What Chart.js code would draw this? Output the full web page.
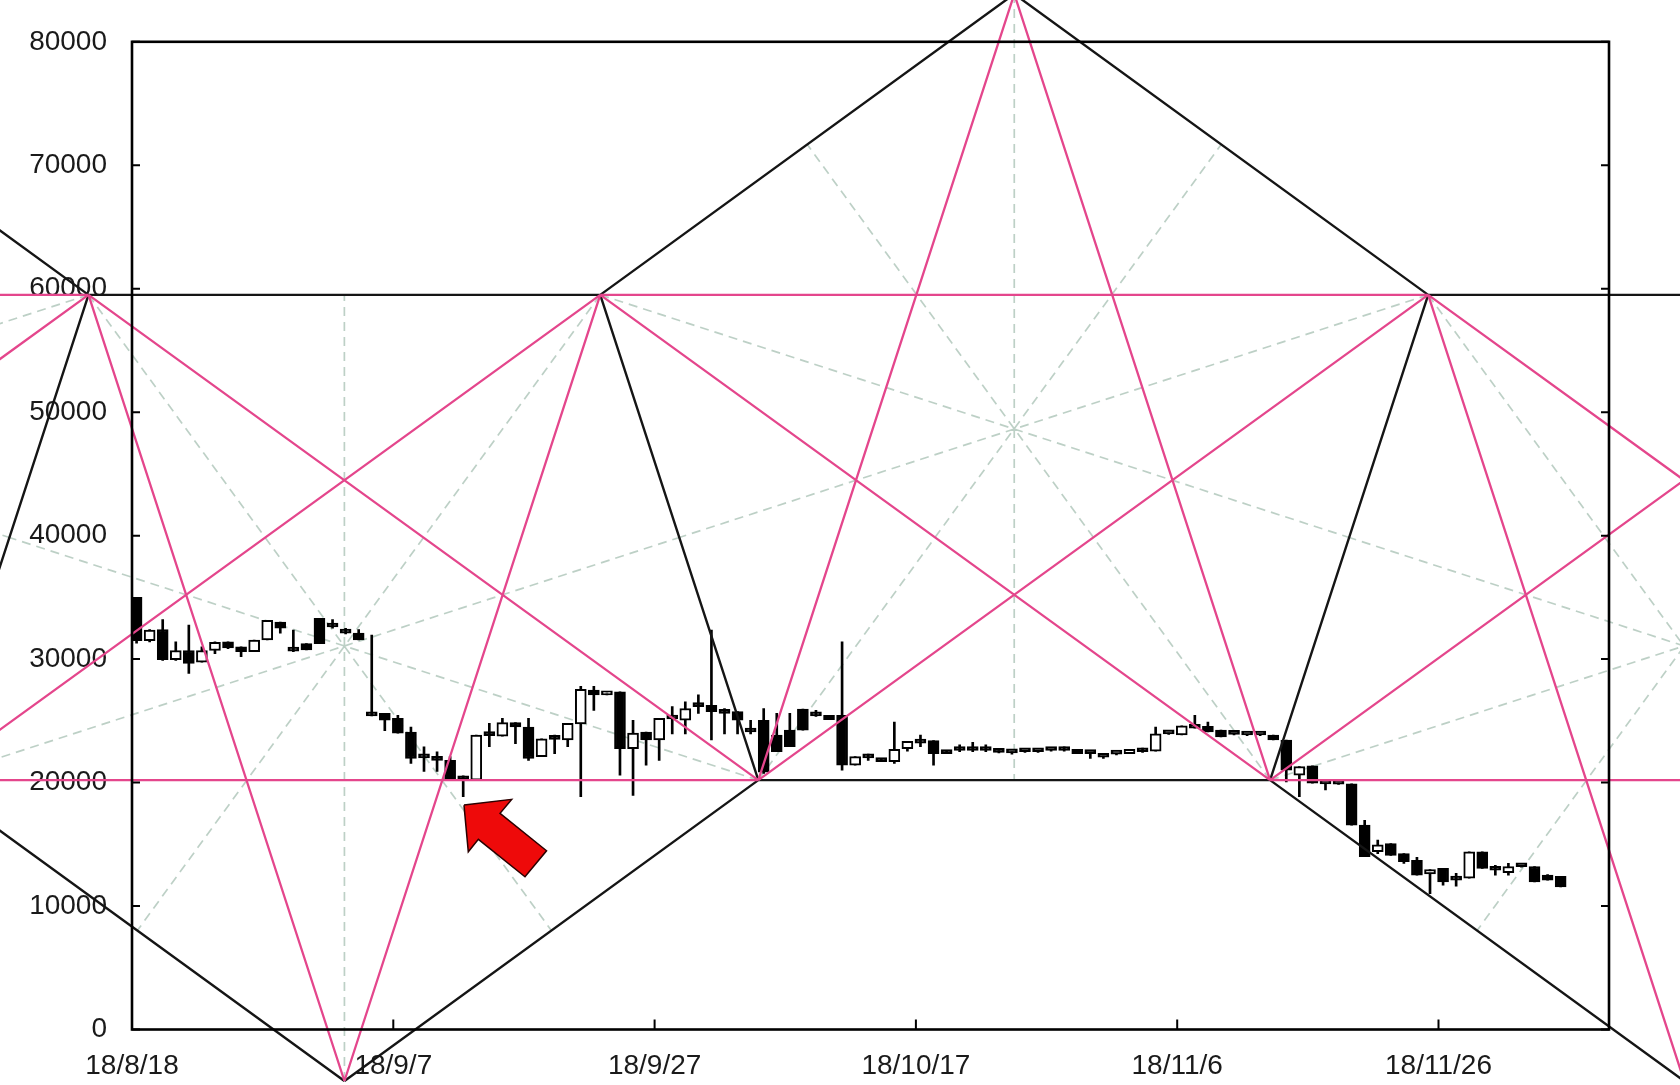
<!DOCTYPE html>
<html>
<head>
<meta charset="utf-8">
<script src="https://cdn.jsdelivr.net/npm/chart.js@4.4.1/dist/chart.umd.min.js"></script>
<style>
  html, body { margin: 0; padding: 0; background: #fff; }
  canvas { display: block; }
</style>
</head>
<body>
<canvas id="chart" width="1680" height="1085"></canvas>
<script>
// daily candles, one per calendar day starting 18/8/18
const candleOpen = [
  35000, 31500, 32400, 29950, 30700, 29750, 30700, 31400, 31000, 30600,
  31550, 33000, 30700, 31250, 33300, 32900, 32200, 32100, 25700, 25600,
  25200, 24100, 22100, 21850, 21800, 20550, 20200, 23850, 23750, 24850,
  24500, 22100, 23550, 23450, 24750, 27500, 27100, 27350, 22750, 24100,
  23450, 25200, 25050, 26200, 26250, 25700, 25750, 24150, 25050, 23850,
  24250, 25950, 25600, 25450, 25450, 21400, 22050, 21950, 21700, 22750,
  23250, 23400, 22550, 22650, 22650, 22650, 22550, 22450, 22550, 22550,
  22650, 22650, 22700, 22400, 22100, 22300, 22350, 22550, 22550, 23950,
  23850, 24600, 24550, 24250, 23950, 23900, 23900, 23850, 23450, 20600,
  21350, 19950, 19900, 19900, 16550, 14400, 15050, 14250, 13700, 12600,
  13050, 12400, 12250, 14400, 12950, 12700, 13200, 13200, 12500, 12400
];
const candleHigh = [
  35000, 32400, 33200, 31400, 32750, 31000, 31400, 31400, 31000, 31550,
  33150, 33000, 32350, 31250, 33300, 33200, 32500, 32400, 31950, 25600,
  25450, 24500, 22900, 22500, 22100, 20550, 23850, 24800, 25200, 24850,
  25200, 23550, 23850, 24800, 27800, 27800, 27350, 27350, 25050, 24100,
  25200, 26150, 26550, 27100, 32350, 26000, 25750, 25050, 26000, 25600,
  25600, 25950, 25850, 25450, 31400, 22100, 22300, 21950, 24900, 23350,
  23850, 23400, 22550, 23050, 23250, 23050, 22600, 22500, 22600, 22600,
  22700, 22900, 22700, 22400, 22150, 22350, 22700, 22800, 24500, 24000,
  24600, 25450, 24900, 24250, 23950, 23900, 23900, 23850, 23450, 21300,
  21350, 19950, 19950, 19900, 16950, 15350, 15050, 14250, 13950, 12950,
  13050, 12650, 14400, 14400, 13300, 13450, 13250, 13200, 12550, 12400
];
const candleLow = [
  31300, 31400, 29900, 29900, 28850, 29750, 30450, 30850, 30200, 30600,
  31550, 32100, 30600, 30750, 31250, 32500, 32050, 31550, 25400, 24200,
  24000, 21550, 20900, 20900, 20200, 18850, 20200, 22900, 23750, 23150,
  21800, 22100, 22350, 22900, 18850, 25850, 27100, 20600, 18950, 21400,
  21800, 23950, 23950, 25600, 23450, 23950, 23950, 23950, 20750, 22500,
  22900, 24250, 25350, 25100, 21000, 21400, 21800, 21700, 21550, 22550,
  22900, 21400, 22350, 22500, 22500, 22500, 22400, 22300, 22450, 22450,
  22550, 22550, 22350, 21950, 21950, 22250, 22350, 22450, 22550, 23900,
  23850, 24400, 24100, 23700, 23850, 23800, 23800, 23450, 20050, 18850,
  19950, 19400, 19850, 16550, 14000, 14250, 14100, 13450, 12500, 11000,
  11700, 11600, 12250, 13050, 12500, 12500, 13150, 11950, 12100, 11550
];
const candleClose = [
  31500, 32350, 29950, 30700, 29650, 30700, 31350, 30900, 30600, 31550,
  33150, 32500, 30650, 30750, 31250, 32600, 32100, 31550, 25400, 25050,
  24000, 21950, 22000, 21800, 20200, 20200, 23850, 23800, 24850, 24500,
  21950, 23550, 23500, 24800, 27550, 27100, 27350, 22750, 24000, 23450,
  25200, 25150, 26000, 26150, 25750, 25600, 25050, 24100, 20850, 22500,
  22900, 24250, 25400, 25100, 21400, 22100, 22000, 21700, 22700, 23350,
  23200, 22350, 22350, 22600, 22600, 22600, 22450, 22400, 22500, 22500,
  22600, 22600, 22350, 22350, 22050, 22300, 22700, 22500, 23950, 23950,
  24600, 24400, 24100, 23700, 23900, 23850, 23850, 23450, 21000, 21300,
  19950, 19900, 19880, 16550, 14000, 14950, 14100, 13600, 12500, 12950,
  11950, 12100, 14400, 13050, 12900, 13200, 13180, 11950, 12100, 11550
];
const candleTime = 0.35; // fraction of the day where each candle sits

// pentagon / pentagram pivots: days from 18/8/18 and price levels
const highLevel = 59500;
const lowLevel = 20200;
const topLevel = 83870;
const bottomLevel = -4170;
const highDays = [-66.71, -3.33, 35.84, 99.21, 138.38];
const lowDays = [-54.61, -15.44, 47.94, 87.11, 150.49];
const topDays = [-35.02, 67.53];
const bottomDays = [16.26, 118.80];

// red arrow outline
const arrowDays = [25.41, 25.74, 26.51, 30.08, 31.73, 28.17, 29.06, 25.41];
const arrowValues = [18178, 14397, 15401, 12372, 14478, 17506, 18640, 18178];

const dateTickDays = [0, 20, 40, 60, 80, 100];
const dateTickLabels = ['18/8/18', '18/9/7', '18/9/27', '18/10/17', '18/11/6', '18/11/26'];
const priceTicks = [0, 10000, 20000, 30000, 40000, 50000, 60000, 70000, 80000];

// build the pentagons from the pivots
const H = highDays.map(d => ({x: d, y: highLevel}));
const L = lowDays.map(d => ({x: d, y: lowLevel}));
const T = topDays.map(d => ({x: d, y: topLevel}));
const B = bottomDays.map(d => ({x: d, y: bottomLevel}));
const pentagons = [
  [T[0], H[1], L[1], L[0], H[0]],
  [H[1], H[2], L[2], B[0], L[1]],
  [T[1], H[3], L[3], L[2], H[2]],
  [H[3], H[4], L[4], B[1], L[3]]
];
const mid = (a, b) => ({x: (a.x + b.x) / 2, y: (a.y + b.y) / 2});
const edges = [], diagonals = [], spokes = [];
pentagons.forEach(v => {
  for (let i = 0; i < 5; i++) {
    edges.push([v[i], v[(i + 1) % 5]]);
    diagonals.push([v[i], v[(i + 2) % 5]]);
    spokes.push([v[i], mid(v[(i + 2) % 5], v[(i + 3) % 5])]);
  }
});
const toSegments = pairs => pairs.flatMap(([a, b]) => [a, b, {x: null, y: null}]);

const days = candleOpen.map((_, i) => i + candleTime);
const bodies = days.map((d, i) => ({x: d, y: [candleOpen[i], candleClose[i]]}));
const wicks = days.map((d, i) => ({x: d, y: [candleLow[i], candleHigh[i]]}));
const arrow = arrowDays.map((d, i) => ({x: d, y: arrowValues[i]}));

const framePlugin = {
  id: 'frame',
  afterDatasetsDraw(chart) {
    const {ctx, chartArea: a, scales: {x, y}} = chart;
    ctx.save();
    ctx.strokeStyle = '#000';
    ctx.lineWidth = 2.6;
    ctx.strokeRect(a.left, a.top, a.right - a.left, a.bottom - a.top);
    ctx.lineWidth = 2;
    ctx.beginPath();
    y.ticks.forEach(t => {
      const py = y.getPixelForValue(t.value);
      ctx.moveTo(a.left, py); ctx.lineTo(a.left + 8, py);
      ctx.moveTo(a.right, py); ctx.lineTo(a.right - 8, py);
    });
    x.ticks.forEach(t => {
      const px = x.getPixelForValue(t.value);
      ctx.moveTo(px, a.bottom); ctx.lineTo(px, a.bottom - 10);
    });
    ctx.stroke();
    ctx.restore();
  }
};

Chart.defaults.font.family = "'Liberation Sans', Arial, sans-serif";
Chart.defaults.font.size = 28;
Chart.defaults.color = '#1a1a1a';

new Chart(document.getElementById('chart'), {
  type: 'line',
  data: {
    datasets: [
      {
        type: 'line', data: arrow, order: 0, fill: 'shape',
        backgroundColor: '#ee0a0a', borderColor: '#2a0000', borderWidth: 1.5,
        pointRadius: 0, clip: false
      },
      {
        type: 'line', data: toSegments(diagonals), order: 1,
        borderColor: '#e4468c', borderWidth: 2.3, pointRadius: 0, clip: false, spanGaps: false
      },
      {
        type: 'line', data: toSegments(edges), order: 2,
        borderColor: '#151515', borderWidth: 2.4, pointRadius: 0, clip: false, spanGaps: false
      },
      {
        type: 'bar', data: bodies, order: 3, grouped: false, barThickness: 11,
        minBarLength: 4, borderSkipped: false, borderWidth: 2, borderColor: '#000',
        backgroundColor: c => {
          const i = c.dataIndex;
          return candleClose[i] > candleOpen[i] ? '#ffffff' : '#000000';
        }
      },
      {
        type: 'bar', data: wicks, order: 4, grouped: false, barThickness: 2,
        borderWidth: 0, backgroundColor: '#000'
      },
      {
        type: 'line', data: toSegments(spokes), order: 5,
        borderColor: 'rgba(185, 205, 195, 0.95)', borderWidth: 1.7, borderDash: [9, 6],
        pointRadius: 0, clip: false, spanGaps: false
      }
    ]
  },
  options: {
    responsive: false,
    animation: false,
    events: [],
    devicePixelRatio: 1,
    layout: { padding: { top: 41.5, right: 71, left: 0, bottom: 0 } },
    plugins: { legend: { display: false }, tooltip: { enabled: false } },
    scales: {
      x: {
        type: 'linear', min: 0, max: 113.05, offset: false,
        grid: { display: false, drawTicks: false },
        border: { display: false },
        afterBuildTicks: s => { s.ticks = dateTickDays.map(v => ({value: v})); },
        afterFit: s => { s.height = 55.5; },
        ticks: {
          padding: 20, maxRotation: 0, autoSkip: false,
          callback: v => dateTickLabels[dateTickDays.indexOf(v)]
        }
      },
      y: {
        type: 'linear', min: 0, max: 80000,
        grid: { display: false, drawTicks: false },
        border: { display: false },
        afterBuildTicks: s => { s.ticks = priceTicks.map(v => ({value: v})); },
        afterFit: s => { s.width = 132; },
        ticks: { padding: 25, callback: v => String(v) }
      }
    }
  },
  plugins: [framePlugin]
});
</script>
</body>
</html>
